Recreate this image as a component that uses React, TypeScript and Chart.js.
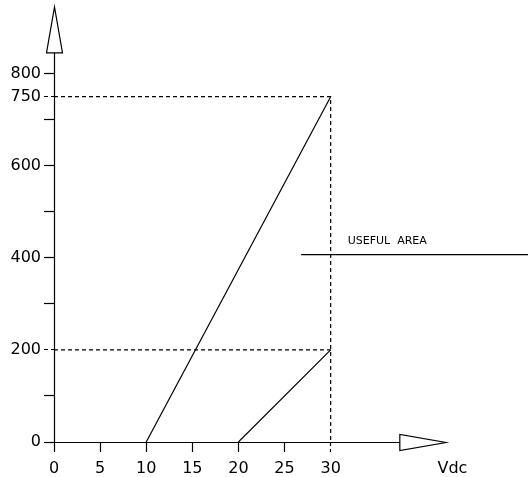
import React, { useEffect, useRef } from "react";
import { Chart, registerables } from "chart.js";

Chart.register(...registerables);

// ---- data ----
const X_TICKS = [0, 5, 10, 15, 20, 25, 30];
const Y_TICKS = [0, 100, 200, 300, 400, 500, 600, 700, 750, 800];
const Y_LABELED = [0, 200, 400, 600, 750, 800];
const DASHED_X_TICKS = [30];
const DASHED_Y_TICKS = [200, 750];
const X_UNIT_LABEL = "Vdc";
const X_UNIT_POS = 43.2;

const LINE_A_X = [10, 30];
const LINE_A_Y = [0, 750];
const LINE_B_X = [20, 30];
const LINE_B_Y = [0, 200];
const DASH_750_X = [0, 30, 30];
const DASH_750_Y = [750, 750, 0];
const DASH_200_X = [0, 30];
const DASH_200_Y = [200, 200];
const USEFUL_X = [26.8, 51.4];
const USEFUL_Y = [407, 407];
const USEFUL_TEXT = "USEFUL  AREA";
const USEFUL_TEXT_X = 31.85;
const USEFUL_TEXT_Y = 436;

const X_MIN = 0;
const X_MAX = 51.4;
const Y_MIN = 0;
const Y_MAX = 960;
const Y_ARROW_BASE = 845;
const Y_ARROW_TIP = 945;
const X_ARROW_BASE = 37.5;
const X_ARROW_TIP = 42.5;

const pts = (xs: number[], ys: number[]) => xs.map((x, i) => ({ x, y: ys[i] }));

const FONT = "'DejaVu Sans', sans-serif";
const LW = 1.2;

const axesPlugin = {
  id: "cadAxes",
  afterDatasetsDraw(chart: any) {
    const ctx = chart.ctx as CanvasRenderingContext2D;
    const xs = chart.scales.x;
    const ys = chart.scales.y;
    const x0 = Math.round(xs.getPixelForValue(0)) + 0.5;
    const y0 = Math.round(ys.getPixelForValue(0)) + 0.5;
    ctx.save();
    ctx.strokeStyle = "#000";
    ctx.lineWidth = LW;
    ctx.setLineDash([]);
    // y axis + arrow
    const yb = ys.getPixelForValue(Y_ARROW_BASE);
    const yt = ys.getPixelForValue(Y_ARROW_TIP);
    ctx.beginPath();
    ctx.moveTo(x0, y0);
    ctx.lineTo(x0, yb);
    ctx.stroke();
    ctx.beginPath();
    ctx.moveTo(x0 - 8, yb);
    ctx.lineTo(x0 + 8, yb);
    ctx.lineTo(x0, yt);
    ctx.closePath();
    ctx.stroke();
    // x axis + arrow
    const xb = xs.getPixelForValue(X_ARROW_BASE);
    const xt = xs.getPixelForValue(X_ARROW_TIP);
    ctx.beginPath();
    ctx.moveTo(x0, y0);
    ctx.lineTo(xb, y0);
    ctx.stroke();
    ctx.beginPath();
    ctx.moveTo(xb, y0 - 8);
    ctx.lineTo(xb, y0 + 8);
    ctx.lineTo(xt, y0);
    ctx.closePath();
    ctx.stroke();
    // useful area text
    ctx.fillStyle = "#000";
    ctx.font = `11px ${FONT}`;
    ctx.textBaseline = "middle";
    ctx.textAlign = "left";
    ctx.fillText(USEFUL_TEXT, xs.getPixelForValue(USEFUL_TEXT_X), ys.getPixelForValue(USEFUL_TEXT_Y));
    ctx.restore();
  },
};

const solid = { borderColor: "#000", borderWidth: LW, pointRadius: 0, showLine: true, fill: false };
const dashed = { ...solid, borderDash: [4, 3] };

export default function App() {
  const ref = useRef<HTMLCanvasElement | null>(null);
  useEffect(() => {
    if (!ref.current) return;
    const chart = new Chart(ref.current, {
      type: "scatter",
      data: {
        datasets: [
          { ...dashed, data: pts(DASH_750_X, DASH_750_Y) },
          { ...dashed, data: pts(DASH_200_X, DASH_200_Y) },
          { ...solid, data: pts(LINE_A_X, LINE_A_Y) },
          { ...solid, data: pts(LINE_B_X, LINE_B_Y) },
          { ...solid, data: pts(USEFUL_X, USEFUL_Y) },
        ] as any,
      },
      options: {
        animation: false,
        responsive: true,
        maintainAspectRatio: false,
        layout: { padding: 0 },
        plugins: { legend: { display: false }, tooltip: { enabled: false } },
        scales: {
          x: {
            type: "linear",
            min: X_MIN,
            max: X_MAX,
            afterBuildTicks: (s: any) => {
              s.ticks = [...X_TICKS, X_UNIT_POS].map((v) => ({ value: v }));
            },
            afterFit: (s: any) => {
              s.height = 35;
              s.paddingLeft = 0;
              s.paddingRight = 0;
            },
            border: { display: false },
            grid: {
              drawOnChartArea: false,
              drawTicks: true,
              tickLength: 10,
              tickWidth: LW,
              tickColor: (c: any) => (c.tick && c.tick.value === X_UNIT_POS ? "rgba(0,0,0,0)" : "#000"),
              tickBorderDash: (c: any) => (c.tick && DASHED_X_TICKS.includes(c.tick.value) ? [4, 3] : []),
            },
            ticks: {
              color: "#000",
              font: { family: FONT, size: 16 },
              padding: 7,
              maxRotation: 0,
              autoSkip: false,
              callback: (v: any) => (v === X_UNIT_POS ? X_UNIT_LABEL : String(v)),
            },
          },
          y: {
            type: "linear",
            min: Y_MIN,
            max: Y_MAX,
            afterBuildTicks: (s: any) => {
              s.ticks = Y_TICKS.map((v) => ({ value: v }));
            },
            afterFit: (s: any) => {
              s.width = 54;
              s.paddingTop = 0;
              s.paddingBottom = 0;
            },
            border: { display: false },
            grid: {
              drawOnChartArea: false,
              drawTicks: true,
              tickLength: 10,
              tickWidth: LW,
              tickColor: "#000",
              tickBorderDash: (c: any) => (c.tick && DASHED_Y_TICKS.includes(c.tick.value) ? [4, 3] : []),
            },
            ticks: {
              color: "#000",
              font: { family: FONT, size: 16 },
              padding: 3,
              autoSkip: false,
              callback: (v: any) => (Y_LABELED.includes(v) ? String(v) : ""),
            },
          },
        },
      },
      plugins: [axesPlugin],
    });
    return () => chart.destroy();
  }, []);
  return (
    <div style={{ position: "absolute", left: 0, top: 0, width: 528, height: 477, background: "#fff" }}>
      <canvas ref={ref} />
    </div>
  );
}
